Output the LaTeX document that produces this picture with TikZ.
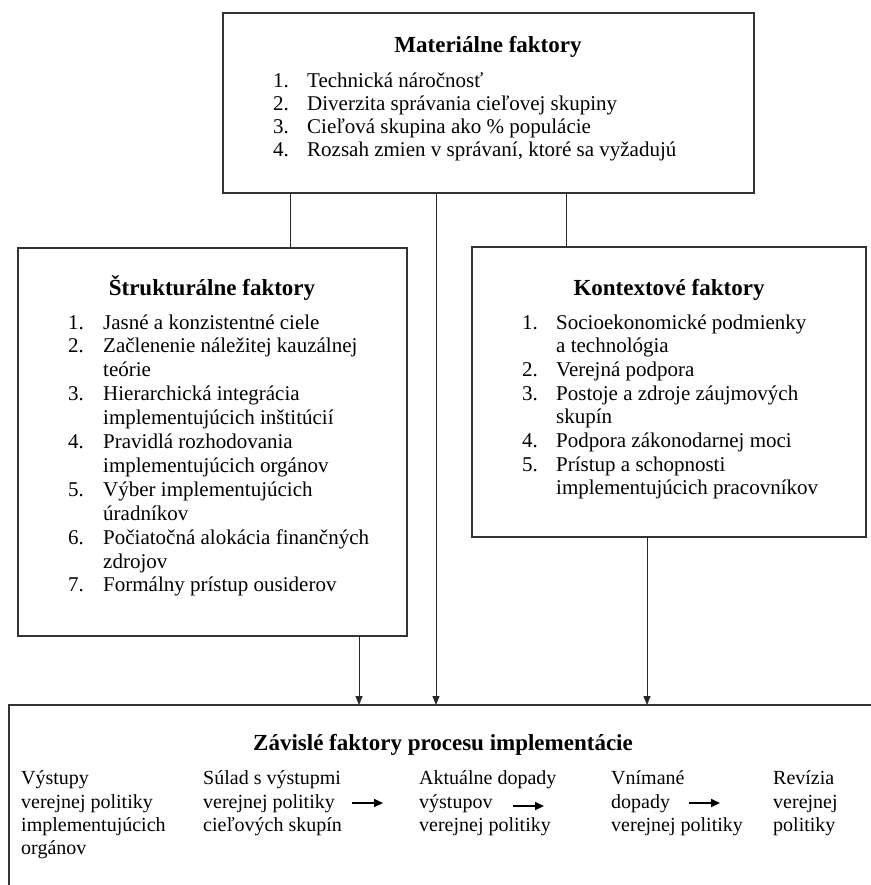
\documentclass[tikz,border=0pt]{standalone}
\usepackage{fontspec}
\setmainfont{Liberation Serif}
\usetikzlibrary{arrows.meta}

\begin{document}
\begin{tikzpicture}[x=1pt,y=-1pt,
  box/.style={draw=black!80, line width=1.4pt, anchor=north west, inner sep=0pt, outer sep=0pt},
  ttl/.style={inner sep=0pt, anchor=base, font=\fontsize{23}{27}\selectfont\bfseries},
  txt/.style={inner sep=0pt, anchor=base west, font=\fontsize{21}{25}\selectfont},
  btxt/.style={inner sep=0pt, anchor=base west, font=\fontsize{20}{23}\selectfont},
  conn/.style={draw=black!85, line width=0.9pt},
  arr/.style={conn, -{Triangle[length=9pt,width=7pt]}},
  flow/.style={line width=2pt, -{Triangle[length=9pt,width=8pt]}}]

% page
\fill[white] (0,0) rectangle (870,885);
\useasboundingbox (0,0) rectangle (870,885);

% frames
\node[box, minimum width=531pt, minimum height=180pt] (mat) at (223,13) {};
\node[box, minimum width=389pt, minimum height=388pt] (str) at (18,248) {};
\node[box, minimum width=394pt, minimum height=290pt] (ctx) at (472,247) {};
\node[box, minimum width=900pt, minimum height=220pt] (dep) at (9,705) {};

% material factors
\node[ttl] (matT) at (488,53) {Materiálne faktory};
\node[txt] (mn1) at (273,88)  {1.};
\node[txt] (mt1) at (307,88)  {Technická náročnosť};
\node[txt] (mn2) at (273,111) {2.};
\node[txt] (mt2) at (307,111) {Diverzita správania cieľovej skupiny};
\node[txt] (mn3) at (273,134) {3.};
\node[txt] (mt3) at (307,134) {Cieľová skupina ako \% populácie};
\node[txt] (mn4) at (273,157) {4.};
\node[txt] (mt4) at (307,157) {Rozsah zmien v správaní, ktoré sa vyžadujú};

% structural factors
\node[ttl] (strT) at (212,295) {Štrukturálne faktory};
\foreach \n/\t [count=\k from 0] in {
  1./Jasné a konzistentné ciele,
  2./Začlenenie náležitej kauzálnej,
  /teórie,
  3./Hierarchická integrácia,
  /implementujúcich inštitúcií,
  4./Pravidlá rozhodovania,
  /implementujúcich orgánov,
  5./Výber implementujúcich,
  /úradníkov,
  6./Počiatočná alokácia finančných,
  /zdrojov,
  7./Formálny prístup ousiderov}{
  \node[txt] (sn\k) at (68,329+23.9*\k) {\n};
  \node[txt] (st\k) at (103,329+23.9*\k) {\t};
}

% context factors
\node[ttl] (ctxT) at (669,295) {Kontextové faktory};
\foreach \n/\t [count=\k from 0] in {
  1./Socioekonomické podmienky,
  /a technológia,
  2./Verejná podpora,
  3./Postoje a zdroje záujmových,
  /skupín,
  4./Podpora zákonodarnej moci,
  5./Prístup a schopnosti,
  /implementujúcich pracovníkov}{
  \node[txt] (cn\k) at (522,329+23.7*\k) {\n};
  \node[txt] (ct\k) at (556,329+23.7*\k) {\t};
}

% dependent factors
\node[ttl] (depT) at (443,750) {Závislé faktory procesu implementácie};
\node[btxt] (d1a) at (21,784)  {Výstupy};
\node[btxt] (d1b) at (21,808)  {verejnej politiky};
\node[btxt] (d1c) at (21,831)  {implementujúcich};
\node[btxt] (d1d) at (21,854)  {orgánov};
\node[btxt] (d2a) at (203,784) {Súlad s výstupmi};
\node[btxt] (d2b) at (203,808) {verejnej politiky};
\node[btxt] (d2c) at (203,831) {cieľových skupín};
\node[btxt] (d3a) at (419,784) {Aktuálne dopady};
\node[btxt] (d3b) at (419,808) {výstupov};
\node[btxt] (d3c) at (419,831) {verejnej politiky};
\node[btxt] (d4a) at (611,784) {Vnímané};
\node[btxt] (d4b) at (611,808) {dopady};
\node[btxt] (d4c) at (611,831) {verejnej politiky};
\node[btxt] (d5a) at (773,784) {Revízia};
\node[btxt] (d5b) at (773,808) {verejnej};
\node[btxt] (d5c) at (773,831) {politiky};

% sequence arrows between the stages
\coordinate (f1s) at (352,803); \coordinate (f1e) at (383,803);
\coordinate (f2s) at (513,806); \coordinate (f2e) at (544,806);
\coordinate (f3s) at (689,803); \coordinate (f3e) at (720,803);
\draw[flow] (f1s) -- (f1e);
\draw[flow] (f2s) -- (f2e);
\draw[flow] (f3s) -- (f3e);

% connectors
\draw[conn] ([xshift=67pt]mat.south west) -- ([xshift=272pt]str.north west);
\draw[conn] ([xshift=343pt]mat.south west) -- ([xshift=94pt]ctx.north west);
\draw[arr]  ([xshift=213pt]mat.south west) -- ([xshift=427pt]dep.north west);
\draw[arr]  ([xshift=341pt]str.south west) -- ([xshift=350pt]dep.north west);
\draw[arr]  ([xshift=175pt]ctx.south west) -- ([xshift=638pt]dep.north west);
\end{tikzpicture}
\end{document}
